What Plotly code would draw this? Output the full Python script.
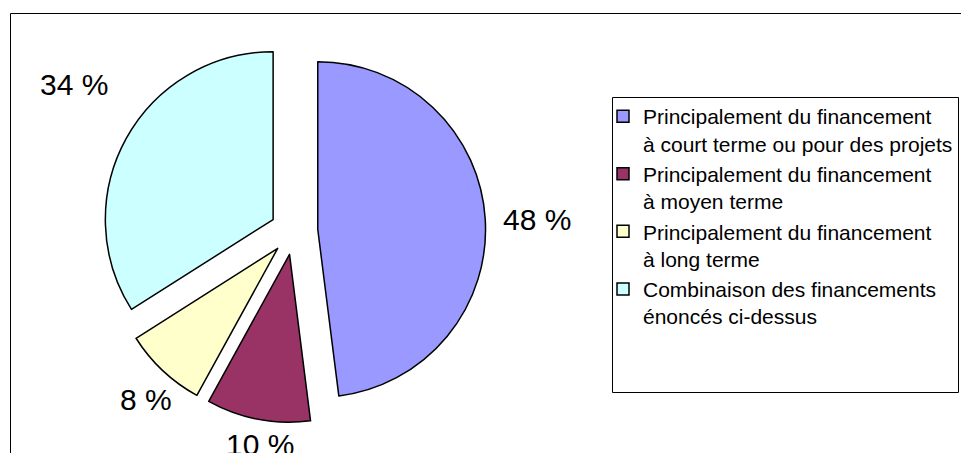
import math
import plotly.graph_objects as go

categories = [
    "Principalement du financement<br>à court terme ou pour des projets",
    "Principalement du financement<br>à moyen terme",
    "Principalement du financement<br>à long terme",
    "Combinaison des financements<br>énoncés ci-dessus",
]
values = [48, 10, 8, 34]
colors = ["#9999FF", "#993366", "#FFFFCC", "#CCFFFF"]
labels_text = [f"{v} %" for v in values]

W, H = 961, 453
FONT = "Liberation Sans, Arial, sans-serif"

# pie box (pixels) and explosion
BOX_X0, BOX_X1, BOX_Y0, BOX_Y1 = 102.4, 485.6, 39.4, 422.6
PULL = 0.142
cx, cy = (BOX_X0 + BOX_X1) / 2, (BOX_Y0 + BOX_Y1) / 2
R_OUT = (BOX_X1 - BOX_X0) / 2  # radius * (1 + pull)

# style offsets of the data labels (pixels, relative to the exploded slice edge)
label_shift = [(52, 1), (2, 25), (-17, 29), (-52, -54)]

fig = go.Figure(
    go.Pie(
        labels=categories,
        values=values,
        textinfo="none",
        sort=False,
        direction="clockwise",
        rotation=0,
        pull=[PULL] * len(values),
        marker=dict(colors=colors, line=dict(color="black", width=1.5)),
        domain=dict(x=[BOX_X0 / W, BOX_X1 / W], y=[1 - BOX_Y1 / H, 1 - BOX_Y0 / H]),
        hoverinfo="label+percent",
    )
)

# data labels anchored on each slice's bisector (computed from the values)
total = sum(values)
annotations = []
cum = 0
for v, txt, (dx, dy) in zip(values, labels_text, label_shift):
    mid = (cum + v / 2) / total * 2 * math.pi
    cum += v
    px = cx + R_OUT * math.sin(mid)
    py = cy - R_OUT * math.cos(mid)
    annotations.append(dict(
        x=px / W, y=1 - py / H, xref="paper", yref="paper",
        text=txt, showarrow=False, xanchor="center", yanchor="middle",
        xshift=dx, yshift=-dy,
        font=dict(size=30, color="black", family=FONT),
    ))

fig.update_layout(
    width=W,
    height=H,
    margin=dict(l=0, r=0, t=0, b=0, autoexpand=False),
    paper_bgcolor="white",
    plot_bgcolor="white",
    font=dict(family=FONT, color="black"),
    showlegend=True,
    legend=dict(
        x=603 / W,
        y=1 - 96 / H,
        xanchor="left",
        yanchor="top",
        valign="top",
        font=dict(size=21, family=FONT, color="black"),
        bgcolor="rgba(0,0,0,0)",
        borderwidth=0,
    ),
    annotations=annotations,
    shapes=[
        dict(type="rect", xref="paper", yref="paper",
             x0=10.5 / W, x1=1.01, y0=-0.05, y1=1 - 13.5 / H,
             line=dict(color="black", width=1), fillcolor="rgba(0,0,0,0)"),
        dict(type="rect", xref="paper", yref="paper",
             x0=612.5 / W, x1=958.5 / W, y0=1 - 392.5 / H, y1=1 - 97.5 / H,
             line=dict(color="black", width=1), fillcolor="rgba(0,0,0,0)"),
    ],
)

fig.write_html(
    "out.html",
    config={"displayModeBar": False},
    post_script="document.body.style.margin='0';document.body.style.overflow='hidden';",
)
